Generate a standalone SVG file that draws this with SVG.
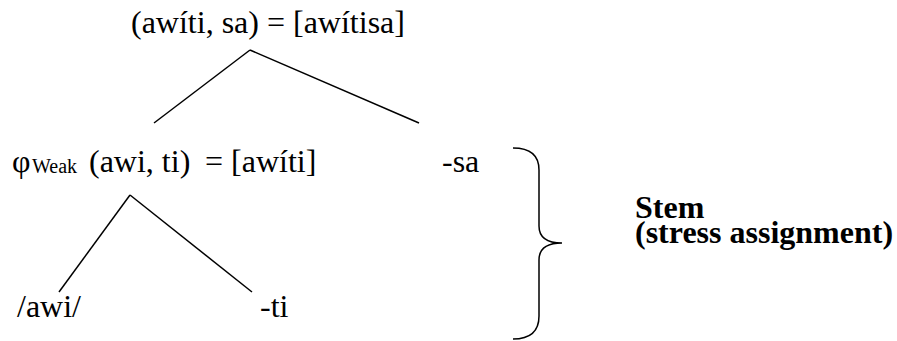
<svg xmlns="http://www.w3.org/2000/svg" width="897" height="341" viewBox="0 0 897 341" font-family="'Liberation Serif', 'DejaVu Serif', serif">
<style>
text { font-family: 'Liberation Serif', 'DejaVu Serif', serif; font-size: 32px; fill: #000; }
.sub { font-size: 20px; }
.bold { font-weight: bold; font-size: 32px; }
.edge { stroke: #000; stroke-width: 1.5; fill: none; }
</style>
<rect width="897" height="341" fill="#fff"/>
<g id="connectors">
  <line class="edge" x1="250" y1="50" x2="154" y2="123"/>
  <line class="edge" x1="250" y1="50" x2="419" y2="123"/>
  <line class="edge" x1="130" y1="195" x2="59" y2="292"/>
  <line class="edge" x1="130" y1="195" x2="252" y2="292"/>
</g>
<g id="node-root">
  <text x="131" y="33" font-family="'Liberation Serif', 'DejaVu Serif', serif">(awíti, sa) = [awítisa]</text>
</g>
<g id="node-weak">
  <text x="12" y="172" font-family="'Liberation Serif', 'DejaVu Serif', serif">φ<tspan class="sub" x="32" dy="1">Weak</tspan><tspan x="89" y="172">(awi, ti)</tspan><tspan x="205" y="172">= [awíti]</tspan></text>
</g>
<g id="node-sa">
  <text x="442" y="172">-sa</text>
</g>
<g id="node-awi">
  <text x="17" y="317">/awi/</text>
</g>
<g id="node-ti">
  <text x="260" y="317">-ti</text>
</g>
<g id="brace">
  <path class="edge" d="M 513 148 Q 539 148 539 170 L 539 226 Q 539 243 562 243 Q 539 243 539 260 L 539 316 Q 539 339 513 339"/>
</g>
<g id="node-stem">
  <text class="bold" x="635" y="218">Stem<tspan x="635" y="243">(stress assignment)</tspan></text>
</g>
</svg>
